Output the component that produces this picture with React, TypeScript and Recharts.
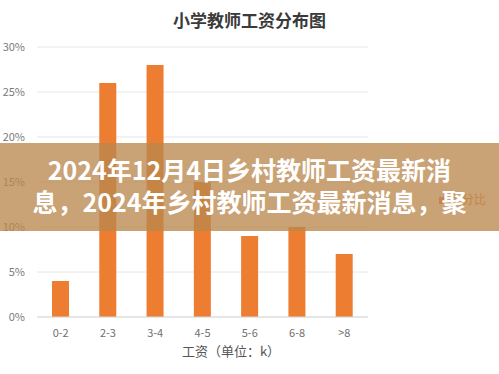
import { BarChart, Bar, XAxis, YAxis, CartesianGrid, Legend } from 'recharts';

const categories = ['0-2', '2-3', '3-4', '4-5', '5-6', '6-8', '>8'];
const shares = [4, 26, 28, 15, 9, 10, 7];
const yTicks = [0, 5, 10, 15, 20, 25, 30];

const data = categories.map((range, i) => ({ range, value: shares[i] }));

const CJK = '"Noto Sans CJK SC", "Noto Sans", sans-serif';

export default function App() {
  return (
    <div
      style={{
        position: 'fixed',
        left: 0,
        top: 0,
        width: 499,
        height: 374,
        background: '#fff',
        fontFamily: CJK,
        overflow: 'hidden',
      }}
    >
      <div
        style={{
          position: 'absolute',
          left: 0,
          top: 8,
          width: 499,
          textAlign: 'center',
          fontSize: 17,
          fontWeight: 700,
          color: '#3a3a3a',
          lineHeight: '24px',
        }}
      >
        小学教师工资分布图
      </div>

      <BarChart
        width={499}
        height={374}
        data={data}
        margin={{ top: 47, right: 74, bottom: 27, left: 0 }}
        barSize={17}
      >
        <CartesianGrid vertical={false} stroke="#e6e6e6" />
        <XAxis
          dataKey="range"
          axisLine={{ stroke: '#d9d9d9' }}
          tickLine={false}
          height={30}
          tick={{ fontSize: 11, fill: '#6f6f6f', fontFamily: CJK }}
          tickMargin={6}
        />
        <YAxis
          width={37}
          domain={[0, 30]}
          ticks={yTicks}
          axisLine={false}
          tickLine={false}
          tickFormatter={(v) => `${v}%`}
          tick={{ fontSize: 11, fill: '#7a7a7a', fontFamily: CJK }}
          tickMargin={6}
        />
        <Legend
          layout="vertical"
          align="right"
          verticalAlign="top"
          iconType="square"
          iconSize={7}
          wrapperStyle={{ right: 3, top: 190, fontSize: 12, color: '#6f6f6f' }}
        />
        <Bar dataKey="value" name="百分比" fill="#ed7d31" isAnimationActive={false} />
      </BarChart>

      <div
        style={{
          position: 'absolute',
          left: 0,
          top: 341,
          width: 462,
          textAlign: 'center',
          fontSize: 13,
          color: '#555',
        }}
      >
        工资（单位：k）
      </div>

      <div
        style={{
          position: 'absolute',
          left: 0,
          top: 143,
          width: 499,
          height: 88,
          background: 'rgba(186, 136, 78, 0.78)',
          color: '#fff',
          fontWeight: 700,
          fontSize: 25,
          lineHeight: '32px',
          textAlign: 'center',
          paddingTop: 10,
          boxSizing: 'border-box',
          whiteSpace: 'nowrap',
        }}
      >
        <div>2024年12月4日乡村教师工资最新消</div>
        <div>息，2024年乡村教师工资最新消息，聚</div>
      </div>
    </div>
  );
}
